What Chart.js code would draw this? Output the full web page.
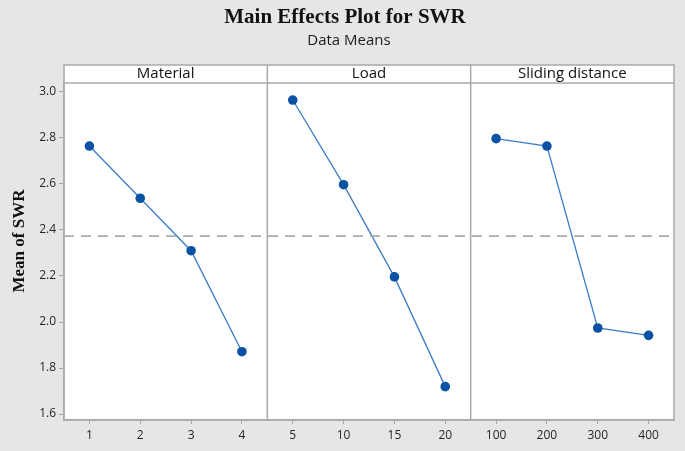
<!DOCTYPE html>
<html>
<head>
<meta charset="utf-8">
<script src="https://cdn.jsdelivr.net/npm/chart.js"></script>
<style>
  body { margin: 0; background: #e6e6e6; }
  canvas { display: block; }
</style>
</head>
<body>
<canvas id="myChart" width="685" height="451"></canvas>
<script>
// data
const factors = ["Material", "Load", "Sliding distance"];
const materialLevels = ["1", "2", "3", "4"];
const loadLevels = ["5", "10", "15", "20"];
const slidingLevels = ["100", "200", "300", "400"];
const materialMeans = [2.765, 2.538, 2.31, 1.871];
const loadMeans = [2.965, 2.597, 2.196, 1.719];
const slidingMeans = [2.797, 2.765, 1.974, 1.942];
const overallMean = 2.373;
const yTicks = [1.6, 1.8, 2.0, 2.2, 2.4, 2.6, 2.8, 3.0];

const levelLabels = [...materialLevels, ...loadLevels, ...slidingLevels];
const xPos = levelLabels.map((_, i) => i);

const toPoints = (means, offset) => means.map((v, i) => ({ x: offset + i, y: v }));

const lineColor = "#3b7cc8";
const dotColor = "#0a52a3";
const frameColor = "#a9a9a9";

const panelPlugin = {
    id: "panels",
    beforeDraw(chart) {
        const { ctx, chartArea: a } = chart;
        ctx.save();
        ctx.fillStyle = "#ffffff";
        ctx.fillRect(a.left, a.top - 18, a.right - a.left, a.bottom - a.top + 18);
        ctx.restore();
    },
    afterDraw(chart) {
        const { ctx, chartArea: a, scales } = chart;
        const x = scales.x;
        ctx.save();
        ctx.strokeStyle = frameColor;
        ctx.lineWidth = 1.5;
        ctx.strokeRect(a.left, a.top - 18, a.right - a.left, a.bottom - a.top + 18);
        ctx.beginPath();
        ctx.moveTo(a.left, a.top);
        ctx.lineTo(a.right, a.top);
        [3.5, 7.5].forEach((v) => {
            const px = x.getPixelForValue(v);
            ctx.moveTo(px, a.top - 18);
            ctx.lineTo(px, a.bottom);
        });
        ctx.stroke();

        // panel titles
        ctx.fillStyle = "#111111";
        ctx.font = "15px 'Open Sans'";
        ctx.textAlign = "center";
        ctx.textBaseline = "middle";
        factors.forEach((f, i) => {
            const l = x.getPixelForValue(i * 4 - 0.5);
            const r = x.getPixelForValue(i * 4 + 3.5);
            ctx.fillText(f, (l + r) / 2, a.top - 9);
        });

        // main titles
        ctx.font = "bold 21px 'Liberation Serif'";
        ctx.fillText("Main Effects Plot for SWR", 345, 18);
        ctx.font = "15px 'Open Sans'";
        ctx.fillStyle = "#1c1c1c";
        ctx.fillText("Data Means", 349, 41);

        // y axis title
        ctx.translate(20, 241);
        ctx.rotate(-Math.PI / 2);
        ctx.font = "bold 17px 'Liberation Serif'";
        ctx.fillStyle = "#111111";
        ctx.fillText("Mean of SWR", 0, 0);
        ctx.restore();
    },
};

const lineStyle = {
    borderColor: lineColor,
    borderWidth: 1.3,
    pointRadius: 4.8,
    pointHoverRadius: 4.8,
    pointBackgroundColor: dotColor,
    pointBorderWidth: 0,
    tension: 0,
};

new Chart(document.getElementById("myChart"), {
    type: "line",
    data: {
        datasets: [
            {
                label: "mean",
                data: [
                    { x: -0.5, y: overallMean },
                    { x: 11.5, y: overallMean },
                ],
                borderColor: "#ababab",
                borderWidth: 1.8,
                borderDash: [10, 7],
                pointRadius: 0,
            },
            { label: factors[0], data: toPoints(materialMeans, 0), ...lineStyle },
            { label: factors[1], data: toPoints(loadMeans, 4), ...lineStyle },
            { label: factors[2], data: toPoints(slidingMeans, 8), ...lineStyle },
        ],
    },
    options: {
        responsive: false,
        animation: false,
        layout: {
            padding: { top: 83, right: 11, left: 0, bottom: 0 },
        },
        scales: {
            x: {
                type: "linear",
                min: -0.5,
                max: 11.5,
                afterBuildTicks: (scale) => {
                    scale.ticks = xPos.map((v) => ({ value: v }));
                },
                afterFit: (scale) => {
                    scale.height = 31;
                },
                ticks: {
                    callback: (v) => levelLabels[v],
                    font: { family: "Open Sans", size: 12 },
                    color: "#262626",
                    padding: 4,
                    maxRotation: 0,
                    autoSkip: false,
                },
                grid: {
                    drawOnChartArea: false,
                    tickLength: 4,
                    color: frameColor,
                },
                border: { color: frameColor, width: 1.5 },
            },
            y: {
                min: 1.574,
                max: 3.039,
                afterBuildTicks: (scale) => {
                    scale.ticks = yTicks.map((v) => ({ value: v }));
                },
                afterFit: (scale) => {
                    scale.width = 64;
                },
                ticks: {
                    callback: (v) => v.toFixed(1),
                    font: { family: "Open Sans", size: 12 },
                    color: "#262626",
                    padding: 3,
                },
                grid: {
                    drawOnChartArea: false,
                    tickLength: 5,
                    color: frameColor,
                },
                border: { color: frameColor, width: 1.5 },
            },
        },
        plugins: {
            legend: { display: false },
            tooltip: { enabled: false },
        },
    },
    plugins: [panelPlugin],
});
</script>
</body>
</html>
